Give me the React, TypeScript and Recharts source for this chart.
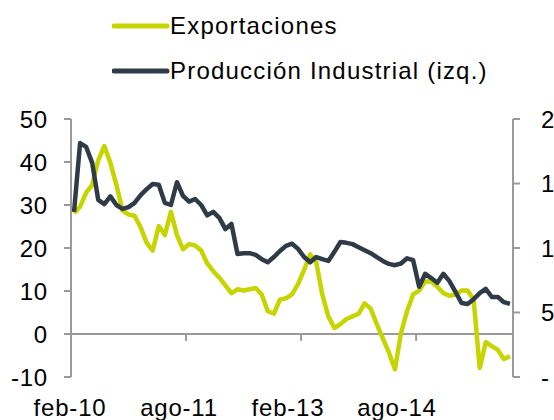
import React from "react";
import {
  LineChart,
  Line,
  XAxis,
  YAxis,
  ReferenceLine,
  Legend,
} from "recharts";

const MESES = ["ene", "feb", "mar", "abr", "may", "jun", "jul", "ago", "sep", "oct", "nov", "dic"];

// feb-10 .. feb-16, mensual
const categorias: string[] = [];
for (let i = 0; i < 73; i++) {
  const m = (1 + i) % 12;
  const y = 10 + Math.floor((1 + i) / 12);
  categorias.push(`${MESES[m]}-${y}`);
}

// eje izquierdo
const produccion = [
  28.4, 44.4, 43.5, 39.8, 31.2, 30.2, 32.0, 30.0, 29.1, 29.5,
  30.5, 32.3, 33.7, 34.9, 34.7, 30.5, 30.0, 35.3, 32.1, 30.8,
  31.4, 30.0, 27.6, 28.4, 27.0, 24.4, 25.6, 18.6, 18.8, 18.8,
  18.4, 17.4, 16.7, 17.9, 19.3, 20.5, 21.0, 19.8, 17.9, 16.7,
  17.9, 17.4, 17.0, 19.1, 21.4, 21.2, 20.9, 20.2, 19.5, 18.8,
  17.9, 17.0, 16.3, 16.0, 16.4, 17.6, 17.2, 11.0, 14.0, 13.0,
  11.9, 14.0, 12.3, 9.8, 7.2, 7.0, 8.1, 9.5, 10.5, 8.6,
  8.6, 7.4, 7.0,
];

// eje derecho
const exportaciones = [
  12.7, 13.2, 14.3, 14.9, 16.8, 17.9, 16.6, 14.9, 12.9, 12.6,
  12.5, 11.6, 10.4, 9.8, 11.7, 11.0, 12.8, 11.0, 9.9, 10.3,
  10.2, 9.8, 8.8, 8.2, 7.7, 7.1, 6.5, 6.8, 6.7, 6.8,
  6.9, 6.4, 5.1, 4.9, 6.0, 6.1, 6.4, 7.2, 8.3, 9.5,
  8.9, 6.4, 4.7, 3.8, 4.1, 4.5, 4.7, 4.9, 5.7, 5.3,
  4.1, 3.0, 1.9, 0.6, 3.4, 5.1, 6.4, 6.7, 7.4, 7.4,
  7.0, 6.5, 6.3, 6.4, 6.7, 6.7, 6.0, 0.7, 2.7, 2.4,
  2.1, 1.4, 1.6,
];

const etiquetasX = [0, 18, 36, 54]; // feb-10, ago-11, feb-13, ago-14
const marcasX = [-0.5, 18.5, 37.5, 56.5, 72.5];
const ticksIzq = [-10, 0, 10, 20, 30, 40, 50];
const ticksDer = [0, 5, 10, 15, 20];

const VERDE = "#c6d500";
const OSCURO = "#2f3c47";
const GRIS = "#9a9a9a";
const FUENTE = "'Liberation Sans', Arial, sans-serif";

const data = categorias.map((mes, i) => ({
  idx: i,
  mes,
  prod: produccion[i],
  exp: exportaciones[i],
}));

const leyenda = [
  { name: "Exportaciones", color: VERDE },
  { name: "Producción Industrial (izq.)", color: OSCURO },
];

const LeyendaCustom = () => (
  <div style={{ fontFamily: FUENTE, fontSize: 24, letterSpacing: 1.2, color: "#000" }}>
    {leyenda.map((l) => (
      <div key={l.name} style={{ display: "flex", alignItems: "center", height: 45 }}>
        <svg width={58} height={10}>
          <line x1={2} y1={5} x2={55} y2={5} stroke={l.color} strokeWidth={5} strokeLinecap="round" />
        </svg>
        <span>{l.name}</span>
      </div>
    ))}
  </div>
);

const tickStyle = { fontFamily: FUENTE, fontSize: 24, fill: "#000", letterSpacing: 0.8 };

export default function App() {
  return (
    <div style={{ position: "absolute", left: 8, top: 8, width: 546, height: 412, overflow: "hidden" }}>
      <LineChart
        width={580}
        height={412}
        data={data}
        margin={{ top: 111, right: 5, bottom: 13, left: 8 }}
      >
        <XAxis
          dataKey="idx"
          type="number"
          domain={[-0.5, 72.5]}
          ticks={etiquetasX}
          tickFormatter={(v) => categorias[v]}
          axisLine={false}
          tickLine={false}
          tickSize={0}
          tickMargin={22}
          height={30}
          tick={{ ...tickStyle, dx: -4 }}
          interval={0}
        />
        <YAxis
          yAxisId="left"
          domain={[-10, 50]}
          ticks={ticksIzq}
          width={55}
          axisLine={{ stroke: GRIS, strokeWidth: 2 }}
          tickLine={{ stroke: GRIS, strokeWidth: 2 }}
          tickSize={7}
          tickMargin={16}
          tick={tickStyle}
          interval={0}
        />
        <YAxis
          yAxisId="right"
          orientation="right"
          domain={[0, 20]}
          ticks={ticksDer}
          width={70}
          axisLine={{ stroke: GRIS, strokeWidth: 2 }}
          tickLine={{ stroke: GRIS, strokeWidth: 2 }}
          tickSize={7}
          tickMargin={21}
          tick={{ ...tickStyle, textAnchor: "start" }}
          tickFormatter={(v) => (v === 0 ? "-" : String(v))}
          interval={0}
        />
        <ReferenceLine yAxisId="left" y={0} stroke={GRIS} strokeWidth={2} />
        {marcasX.map((b) => (
          <ReferenceLine
            key={b}
            yAxisId="left"
            segment={[{ x: b, y: 0 }, { x: b, y: -1.6 }]}
            stroke={GRIS}
            strokeWidth={2}
          />
        ))}
        <Legend
          layout="horizontal"
          verticalAlign="middle"
          align="center"
          wrapperStyle={{ top: -5, left: 104, width: "auto" }}
          content={() => <LeyendaCustom />}
        />
        <Line
          yAxisId="right"
          dataKey="exp"
          name="Exportaciones"
          stroke={VERDE}
          strokeWidth={4.5}
          dot={false}
          isAnimationActive={false}
          strokeLinejoin="round"
        />
        <Line
          yAxisId="left"
          dataKey="prod"
          name="Producción Industrial (izq.)"
          stroke={OSCURO}
          strokeWidth={4.5}
          dot={false}
          isAnimationActive={false}
          strokeLinejoin="round"
        />
      </LineChart>
    </div>
  );
}
